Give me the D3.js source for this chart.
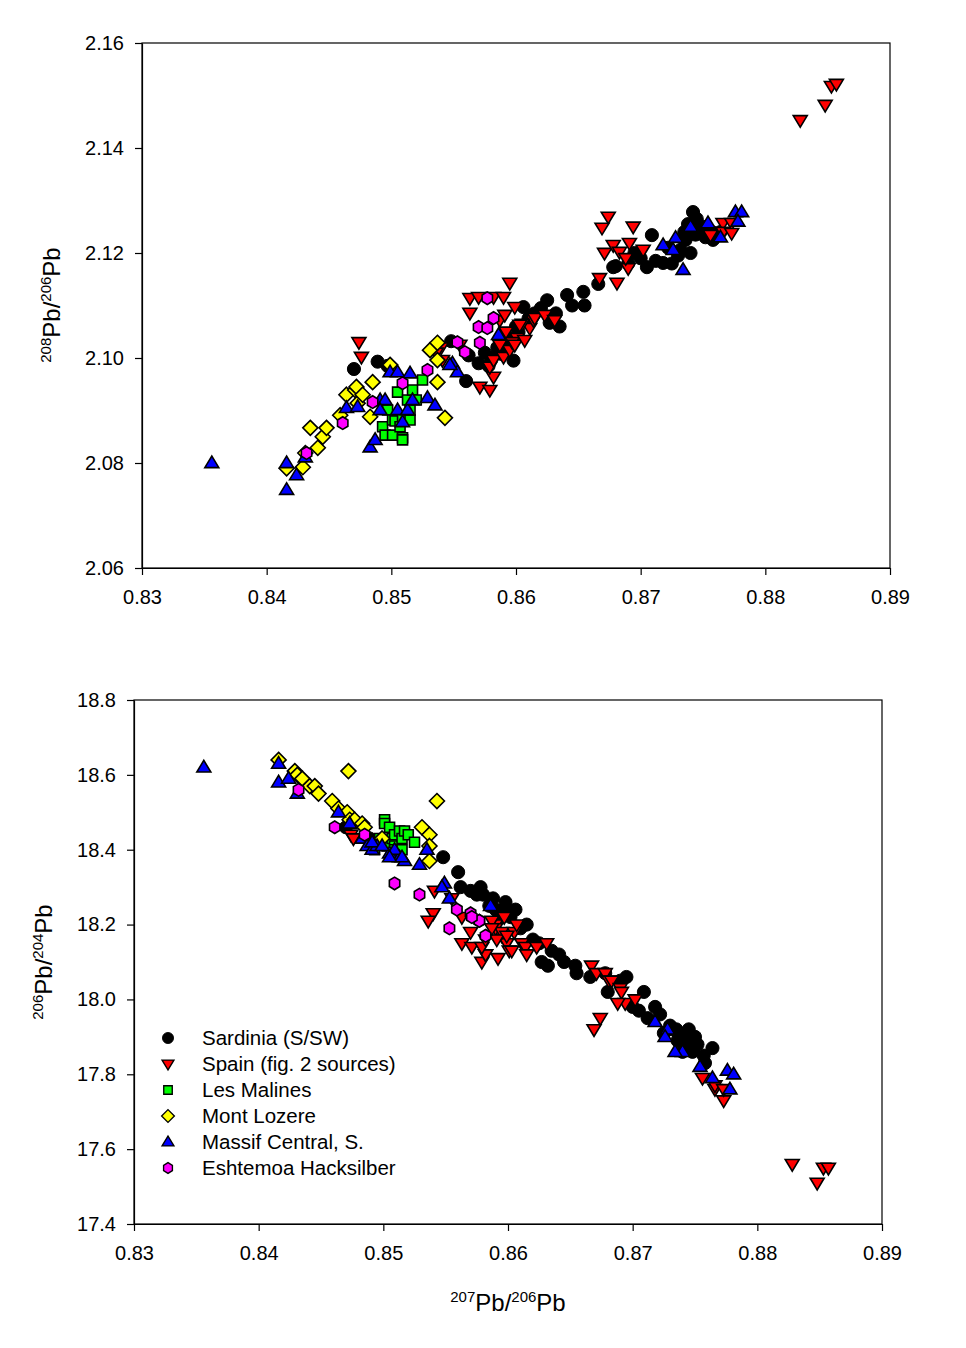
<!DOCTYPE html>
<html><head><meta charset="utf-8">
<script src="https://cdn.jsdelivr.net/npm/d3@7"></script>
<style>body{margin:0;background:#fff;} svg{display:block;} text{font-family:"Liberation Sans",Arial,sans-serif;}</style>
</head><body><svg id="c" width="966" height="1348"></svg>
<script>
// ---- Data: 207Pb/206Pb, 208Pb/206Pb, 206Pb/204Pb ----
const seriesNames = ["Sardinia (S/SW)","Spain (fig. 2 sources)","Les Malines","Mont Lozere","Massif Central, S.","Eshtemoa Hacksilber"];

const sardiniaX   = [0.8470,0.8489,0.8497,0.8548,0.8560,0.8562,0.8570,0.8575,0.8580,0.8585,0.8590,0.8595,0.8600,0.8606,0.8610,0.8620,0.8627,0.8625,0.8632,0.8635,0.8641,0.8645,0.8654,0.8655,0.8666,0.8678,0.8680,0.8690,0.8695,0.8700,0.8709,0.8705,0.8712,0.8718,0.8722,0.8732,0.8735,0.8738,0.8742,0.8745,0.8748,0.8752,0.8758,0.8764,0.8740,0.8725,0.8578,0.8588,0.8598,0.8593,0.8602,0.8615,0.8736,0.8744,0.8750,0.8730,0.8757];
const sardinia208 = [2.0979,2.0993,2.0985,2.1032,2.0956,2.1005,2.0990,2.1010,2.1000,2.1020,2.1045,2.1030,2.1060,2.1097,2.1075,2.1095,2.1067,2.1110,2.1085,2.1060,2.1120,2.1100,2.1126,2.1100,2.1141,2.1173,2.1175,2.1180,2.1200,2.1190,2.1234,2.1173,2.1185,2.1181,2.1210,2.1206,2.1240,2.1255,2.1278,2.1265,2.1245,2.1230,2.1225,2.1240,2.1200,2.1180,2.0985,2.1008,2.0995,2.1040,2.1050,2.1085,2.1225,2.1235,2.1250,2.1195,2.1240];
const sardinia206 = [18.46,18.43,18.42,18.38,18.34,18.30,18.29,18.28,18.28,18.25,18.24,18.22,18.24,18.24,18.19,18.16,18.10,18.15,18.09,18.13,18.12,18.10,18.09,18.07,18.06,18.07,18.02,18.05,18.06,17.98,18.02,17.97,17.95,17.98,17.96,17.92,17.92,17.90,17.89,17.92,17.86,17.88,17.83,17.87,17.86,17.91,18.30,18.27,18.26,18.23,18.22,18.20,17.89,17.87,17.90,17.93,17.85];

const spainX   = [0.8474,0.8476,0.8541,0.8540,0.8536,0.8555,0.8563,0.8570,0.8563,0.8571,0.8579,0.8582,0.8590,0.8595,0.8599,0.8582,0.8579,0.8582,0.8590,0.8595,0.8601,0.8611,0.8614,0.8587,0.8592,0.8605,0.8597,0.8667,0.8669,0.8674,0.8671,0.8678,0.8681,0.8683,0.8690,0.8691,0.8694,0.8702,0.8688,0.8756,0.8766,0.8773,0.8766,0.8773,0.8828,0.8848,0.8853,0.8857,0.8591,0.8603,0.8615,0.8587,0.8599,0.8607,0.8623,0.8631];
const spain208 = [2.1030,2.1002,2.0996,2.1020,2.1010,2.1025,2.1114,2.1116,2.1086,2.0945,2.0939,2.1116,2.1116,2.1143,2.1097,2.0964,2.0983,2.0996,2.1002,2.1015,2.1038,2.1057,2.1072,2.1072,2.1050,2.1065,2.1030,2.1152,2.1248,2.1269,2.1200,2.1215,2.1143,2.1202,2.1171,2.1219,2.1250,2.1206,2.1190,2.1234,2.1257,2.1257,2.1240,2.1238,2.1453,2.1482,2.1518,2.1522,2.1082,2.1063,2.1076,2.1025,2.1025,2.1034,2.1082,2.1072];
const spain206 = [18.44,18.43,18.29,18.23,18.21,18.27,18.15,18.18,18.22,18.14,18.10,18.12,18.20,18.17,18.15,18.12,18.14,18.16,18.19,18.18,18.13,18.15,18.14,18.21,18.11,18.18,18.22,18.09,17.92,17.95,18.07,18.07,18.05,18.05,18.03,18.02,17.99,18.00,17.99,17.79,17.76,17.73,17.77,17.76,17.56,17.51,17.55,17.55,18.16,18.13,18.12,18.19,18.17,18.20,18.14,18.15];

const malinesX   = [0.8493,0.8495,0.8497,0.8501,0.8501,0.8503,0.8505,0.8507,0.8509,0.8509,0.8509,0.8513,0.8515,0.8515,0.8517,0.8520,0.8525];
const malines208 = [2.0869,2.0853,2.0901,2.0882,2.0853,2.0880,2.0935,2.0869,2.0888,2.0848,2.0844,2.0920,2.0882,2.0901,2.0939,2.0920,2.0958];
const malines206 = [18.40,18.42,18.43,18.48,18.47,18.41,18.46,18.43,18.44,18.41,18.40,18.45,18.43,18.40,18.45,18.44,18.42];

const lozereX   = [0.8416,0.8429,0.8431,0.8435,0.8441,0.8445,0.8448,0.8459,0.8464,0.8471,0.8472,0.8473,0.8477,0.8483,0.8485,0.8499,0.8531,0.8537,0.8537,0.8537,0.8543];
const lozere208 = [2.0790,2.0792,2.0819,2.0867,2.0829,2.0850,2.0867,2.0891,2.0930,2.0939,2.0945,2.0914,2.0930,2.0888,2.0954,2.0987,2.1015,2.1029,2.0996,2.0954,2.0886];
const lozere206 = [18.64,18.61,18.60,18.59,18.57,18.57,18.55,18.53,18.51,18.50,18.61,18.48,18.48,18.47,18.46,18.43,18.46,18.44,18.41,18.37,18.53];

const massifX   = [0.8356,0.8416,0.8416,0.8424,0.8431,0.8464,0.8473,0.8483,0.8487,0.8491,0.8495,0.8491,0.8505,0.8513,0.8509,0.8517,0.8529,0.8535,0.8499,0.8505,0.8515,0.8549,0.8553,0.8547,0.8586,0.8718,0.8728,0.8726,0.8740,0.8734,0.8754,0.8764,0.8776,0.8781,0.8778];
const massif208 = [2.0800,2.0800,2.0749,2.0777,2.0811,2.0905,2.0907,2.0830,2.0844,2.0920,2.0920,2.0901,2.0901,2.0901,2.0878,2.0920,2.0924,2.0910,2.0973,2.0973,2.0971,2.0990,2.0973,2.0987,2.1044,2.1215,2.1229,2.1206,2.1250,2.1168,2.1257,2.1230,2.1278,2.1278,2.1260];
const massif206 = [18.62,18.63,18.58,18.59,18.55,18.50,18.47,18.43,18.41,18.40,18.41,18.42,18.39,18.38,18.40,18.37,18.36,18.40,18.41,18.38,18.38,18.31,18.27,18.30,18.25,17.94,17.92,17.90,17.86,17.86,17.82,17.79,17.81,17.80,17.76];

const eshtemoaX   = [0.8432,0.8461,0.8485,0.8509,0.8529,0.8553,0.8559,0.8570,0.8577,0.8577,0.8582,0.8571];
const eshtemoa208 = [2.0819,2.0876,2.0916,2.0952,2.0977,2.1030,2.1011,2.1059,2.1057,2.1114,2.1076,2.1029];
const eshtemoa206 = [18.56,18.46,18.44,18.31,18.28,18.19,18.24,18.23,18.21,18.21,18.17,18.22];

const xTicks = [0.83,0.84,0.85,0.86,0.87,0.88,0.89];
const topYTicks = [2.06,2.08,2.10,2.12,2.14,2.16];
const botYTicks = [17.4,17.6,17.8,18.0,18.2,18.4,18.6,18.8];

// ---- Styles ----
const fills = ["#000000","#FF0000","#00FF00","#FFFF00","#0000FF","#FF00FF"];
const shapes = ["circle","tridown","square","diamond","triup","hexagon"];
const xs = [sardiniaX,spainX,malinesX,lozereX,massifX,eshtemoaX];
const y208s = [sardinia208,spain208,malines208,lozere208,massif208,eshtemoa208];
const y206s = [sardinia206,spain206,malines206,lozere206,massif206,eshtemoa206];

function shapePath(s){
  switch(s){
    case "circle": return d3.symbol(d3.symbolCircle,135)();
    case "tridown": return "M-7,-4.6L7,-4.6L0,7Z";
    case "triup": return "M-7,4.6L7,4.6L0,-7Z";
    case "square": return "M-5,-5H5V5H-5Z";
    case "diamond": return "M0,-7.5L7.5,0L0,7.5L-7.5,0Z";
    case "hexagon": {
      const p=[]; for(let i=0;i<6;i++){const a=Math.PI/3*i+Math.PI/6; p.push([6*Math.cos(a),6.3*Math.sin(a)]);}
      return "M"+p.map(q=>q.join(",")).join("L")+"Z";
    }
  }
}

const svg = d3.select("#c");
const FONT = "'Liberation Sans',Arial,sans-serif";

function panel(cfg){
  const x = d3.scaleLinear().domain([0.83,0.89]).range([cfg.left,cfg.right]);
  const y = d3.scaleLinear().domain(cfg.ydom).range([cfg.bottom,cfg.top]);
  const g = svg.append("g");
  for(let s=0;s<6;s++){
    const data = xs[s].map((v,i)=>({x:v,y:cfg.ys[s][i]}));
    g.append("g").selectAll("path").data(data).join("path")
      .attr("d",shapePath(shapes[s]))
      .attr("transform",d=>`translate(${x(d.x)},${y(d.y)})`)
      .attr("fill",fills[s]).attr("stroke","#000").attr("stroke-width",s===0?1:1.6)
      .attr("stroke-linejoin","miter");
  }
  g.append("rect").attr("x",cfg.left).attr("y",cfg.top).attr("width",cfg.right-cfg.left).attr("height",cfg.bottom-cfg.top)
    .attr("fill","none").attr("stroke","#000").attr("stroke-width",1.2);
  const xa = g.append("g").attr("transform",`translate(0,${cfg.bottom})`)
    .call(d3.axisBottom(x).tickValues(xTicks).tickFormat(d3.format(".2f")).tickSizeInner(7).tickSizeOuter(0).tickPadding(15));
  const ya = g.append("g").attr("transform",`translate(${cfg.left},0)`)
    .call(d3.axisLeft(y).tickValues(cfg.yticks).tickFormat(cfg.yfmt).tickSizeInner(7).tickSizeOuter(0).tickPadding(11));
  [xa,ya].forEach(a=>{a.select(".domain").attr("stroke-width",1.2);a.selectAll("line").attr("stroke-width",1.2);
    a.selectAll("text").attr("font-size",20).attr("fill","#000").style("font-family",FONT);});
  return {x,y};
}

panel({left:142,right:890,top:43,bottom:568,ydom:[2.06,2.16],yticks:topYTicks,yfmt:d3.format(".2f"),ys:y208s});
panel({left:134,right:882,top:700,bottom:1224,ydom:[17.4,18.8],yticks:botYTicks,yfmt:d3.format(".1f"),ys:y206s});

function isoLabel(t,a,b){
  t.append("tspan").attr("font-size",15).attr("dy",-9).text(a);
  t.append("tspan").attr("font-size",24).attr("dy",9).text("Pb/");
  t.append("tspan").attr("font-size",15).attr("dy",-9).text(b);
  t.append("tspan").attr("font-size",24).attr("dy",9).text("Pb");
}
isoLabel(svg.append("text").attr("text-anchor","middle").attr("transform","translate(60,305) rotate(-90)"),"208","206");
isoLabel(svg.append("text").attr("text-anchor","middle").attr("transform","translate(52,962) rotate(-90)"),"206","204");
isoLabel(svg.append("text").attr("text-anchor","middle").attr("transform","translate(508,1311)"),"207","206");

const leg = svg.append("g");
seriesNames.forEach((n,i)=>{
  const yy = 1038 + i*26;
  leg.append("path").attr("d",shapePath(shapes[i])).attr("transform",`translate(168,${yy}) scale(0.85)`)
    .attr("fill",fills[i]).attr("stroke","#000").attr("stroke-width",i===0?1:1.6);
  leg.append("text").attr("x",202).attr("y",yy+7).attr("font-size",20.5).attr("fill","#000").style("font-family",FONT).text(n);
});
</script></body></html>
